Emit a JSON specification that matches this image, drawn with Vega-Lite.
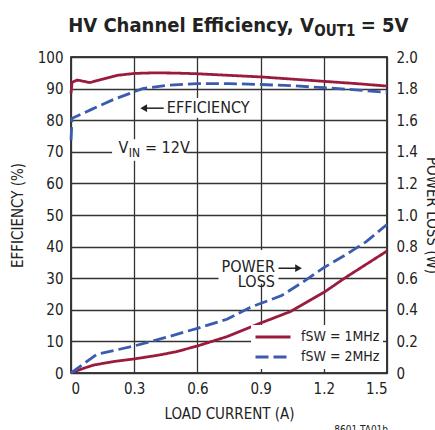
{
  "$schema": "https://vega.github.io/schema/vega-lite/v6.json",
  "autosize": {"type": "none"},
  "padding": {"left": 71, "top": 57, "right": 48, "bottom": 57},
  "width": 316,
  "height": 316,
  "background": "white",
  "config": {
    "font": "DejaVu Sans Condensed",
    "view": {"stroke": "black", "strokeWidth": 1.5},
    "axis": {
      "labelFont": "DejaVu Sans Condensed",
      "titleFont": "DejaVu Sans Condensed",
      "labelFontSize": 15,
      "titleFontSize": 15,
      "titleFontWeight": "normal",
      "labelColor": "#222",
      "titleColor": "#222",
      "ticks": false,
      "domain": false,
      "gridColor": "#333",
      "gridWidth": 1.3,
      "gridOpacity": 1,
      "labelOverlap": false
    },
    "legend": {
      "orient": "bottom-right",
      "offset": 4,
      "title": null,
      "fillColor": "white",
      "padding": 3,
      "labelFont": "DejaVu Sans Condensed",
      "labelFontSize": 14,
      "labelColor": "#222",
      "symbolType": "stroke",
      "symbolStrokeWidth": 3,
      "symbolSize": 1225,
      "labelOffset": 9,
      "clipHeight": 18,
      "rowPadding": 2
    },
    "text": {"font": "DejaVu Sans Condensed", "fontSize": 15, "color": "#222"}
  },
  "datasets": {
    "eff": [
      {"I": 0, "eff": 88.5, "f": "1MHz"},
      {"I": 0.005, "eff": 92.0, "f": "1MHz"},
      {"I": 0.03, "eff": 92.7, "f": "1MHz"},
      {"I": 0.09, "eff": 91.9, "f": "1MHz"},
      {"I": 0.15, "eff": 93.0, "f": "1MHz"},
      {"I": 0.22, "eff": 94.2, "f": "1MHz"},
      {"I": 0.3, "eff": 94.8, "f": "1MHz"},
      {"I": 0.4, "eff": 95.0, "f": "1MHz"},
      {"I": 0.5, "eff": 94.9, "f": "1MHz"},
      {"I": 0.6, "eff": 94.7, "f": "1MHz"},
      {"I": 0.75, "eff": 94.2, "f": "1MHz"},
      {"I": 0.9, "eff": 93.7, "f": "1MHz"},
      {"I": 1.05, "eff": 93.0, "f": "1MHz"},
      {"I": 1.2, "eff": 92.3, "f": "1MHz"},
      {"I": 1.35, "eff": 91.6, "f": "1MHz"},
      {"I": 1.5, "eff": 90.8, "f": "1MHz"},
      {"I": 0, "eff": 73.7, "f": "2MHz"},
      {"I": 0.005, "eff": 80.6, "f": "2MHz"},
      {"I": 0.1, "eff": 83.5, "f": "2MHz"},
      {"I": 0.2, "eff": 86.5, "f": "2MHz"},
      {"I": 0.34, "eff": 90.0, "f": "2MHz"},
      {"I": 0.45, "eff": 91.0, "f": "2MHz"},
      {"I": 0.6, "eff": 91.6, "f": "2MHz"},
      {"I": 0.75, "eff": 91.6, "f": "2MHz"},
      {"I": 0.9, "eff": 91.3, "f": "2MHz"},
      {"I": 1.05, "eff": 90.9, "f": "2MHz"},
      {"I": 1.2, "eff": 90.3, "f": "2MHz"},
      {"I": 1.35, "eff": 89.6, "f": "2MHz"},
      {"I": 1.5, "eff": 88.8, "f": "2MHz"}
    ],
    "loss": [
      {"I": 0, "P": 0, "f": "1MHz"},
      {"I": 0.05, "P": 0.025, "f": "1MHz"},
      {"I": 0.106, "P": 0.05, "f": "1MHz"},
      {"I": 0.2, "P": 0.072, "f": "1MHz"},
      {"I": 0.3, "P": 0.089, "f": "1MHz"},
      {"I": 0.42, "P": 0.114, "f": "1MHz"},
      {"I": 0.5, "P": 0.135, "f": "1MHz"},
      {"I": 0.6, "P": 0.171, "f": "1MHz"},
      {"I": 0.74, "P": 0.23, "f": "1MHz"},
      {"I": 0.9, "P": 0.316, "f": "1MHz"},
      {"I": 1.04, "P": 0.388, "f": "1MHz"},
      {"I": 1.2, "P": 0.51, "f": "1MHz"},
      {"I": 1.31, "P": 0.61, "f": "1MHz"},
      {"I": 1.5, "P": 0.772, "f": "1MHz"},
      {"I": 0, "P": 0, "f": "2MHz"},
      {"I": 0.122, "P": 0.118, "f": "2MHz"},
      {"I": 0.3, "P": 0.171, "f": "2MHz"},
      {"I": 0.45, "P": 0.225, "f": "2MHz"},
      {"I": 0.6, "P": 0.283, "f": "2MHz"},
      {"I": 0.74, "P": 0.34, "f": "2MHz"},
      {"I": 0.85, "P": 0.415, "f": "2MHz"},
      {"I": 1.0, "P": 0.49, "f": "2MHz"},
      {"I": 1.1, "P": 0.575, "f": "2MHz"},
      {"I": 1.2, "P": 0.667, "f": "2MHz"},
      {"I": 1.3, "P": 0.745, "f": "2MHz"},
      {"I": 1.4, "P": 0.83, "f": "2MHz"},
      {"I": 1.5, "P": 0.94, "f": "2MHz"}
    ]
  },
  "layer": [
    {
      "layer": [
        {
          "data": {"name": "eff"},
          "mark": {"type": "line", "strokeWidth": 2.8},
          "encoding": {
            "x": {
              "field": "I", "type": "quantitative",
              "scale": {"domain": [0, 1.5], "nice": false},
              "axis": {"values": [0, 0.3, 0.6, 0.9, 1.2, 1.5], "labelExpr": "datum.value == 0 ? '0' : format(datum.value, '.1f')", "title": "LOAD CURRENT (A)", "labelPadding": 8, "titlePadding": 10, "grid": true}
            },
            "y": {
              "field": "eff", "type": "quantitative",
              "scale": {"domain": [0, 100], "nice": false},
              "axis": {"orient": "left", "values": [0, 10, 20, 30, 40, 50, 60, 70, 80, 90, 100], "title": "EFFICIENCY (%)", "labelPadding": 8, "titlePadding": 12, "grid": true}
            },
            "color": {"field": "f", "type": "nominal", "scale": {"domain": ["1MHz", "2MHz"], "range": ["#9B1B3F", "#3A5BAF"]}, "legend": {"labelExpr": "'fSW = ' + datum.label"}},
            "strokeDash": {"field": "f", "type": "nominal", "scale": {"domain": ["1MHz", "2MHz"], "range": [[1, 0], [13, 5]]}, "legend": {"labelExpr": "'fSW = ' + datum.label"}}
          }
        },
        {
          "data": {"values": [{}]},
          "mark": {"type": "rect", "color": "white"},
          "encoding": {
            "x": {"datum": 0.44, "axis": {"values": [0, 0.3, 0.6, 0.9, 1.2, 1.5], "labelExpr": "datum.value == 0 ? '0' : format(datum.value, '.1f')", "title": "LOAD CURRENT (A)", "labelPadding": 8, "titlePadding": 10, "grid": true}},
            "x2": {"datum": 0.84},
            "y": {"datum": 80.8, "axis": {"orient": "left", "values": [0, 10, 20, 30, 40, 50, 60, 70, 80, 90, 100], "title": "EFFICIENCY (%)", "labelPadding": 8, "titlePadding": 12, "grid": true}},
            "y2": {"datum": 87.0}
          }
        },
        {
          "data": {"values": [{}]},
          "mark": {"type": "rect", "color": "white"},
          "encoding": {
            "x": {"datum": 0.195, "axis": {"values": [0, 0.3, 0.6, 0.9, 1.2, 1.5], "labelExpr": "datum.value == 0 ? '0' : format(datum.value, '.1f')", "title": "LOAD CURRENT (A)", "labelPadding": 8, "titlePadding": 10, "grid": true}},
            "x2": {"datum": 0.546},
            "y": {"datum": 67.2, "axis": {"orient": "left", "values": [0, 10, 20, 30, 40, 50, 60, 70, 80, 90, 100], "title": "EFFICIENCY (%)", "labelPadding": 8, "titlePadding": 12, "grid": true}},
            "y2": {"datum": 74.0}
          }
        },
        {
          "data": {"values": [{}]},
          "mark": {"type": "text", "align": "left", "baseline": "middle", "fontSize": 16},
          "encoding": {
            "text": {"value": "EFFICIENCY"},
            "x": {"datum": 0.455, "axis": {"values": [0, 0.3, 0.6, 0.9, 1.2, 1.5], "labelExpr": "datum.value == 0 ? '0' : format(datum.value, '.1f')", "title": "LOAD CURRENT (A)", "labelPadding": 8, "titlePadding": 10, "grid": true}},
            "y": {"datum": 83.8, "axis": {"orient": "left", "values": [0, 10, 20, 30, 40, 50, 60, 70, 80, 90, 100], "title": "EFFICIENCY (%)", "labelPadding": 8, "titlePadding": 12, "grid": true}}
          }
        },
        {
          "data": {"values": [{}]},
          "mark": {"type": "rule", "color": "#222", "strokeWidth": 1.5},
          "encoding": {
            "x": {"datum": 0.36, "axis": {"values": [0, 0.3, 0.6, 0.9, 1.2, 1.5], "labelExpr": "datum.value == 0 ? '0' : format(datum.value, '.1f')", "title": "LOAD CURRENT (A)", "labelPadding": 8, "titlePadding": 10, "grid": true}},
            "x2": {"datum": 0.44},
            "y": {"datum": 83.8, "axis": {"orient": "left", "values": [0, 10, 20, 30, 40, 50, 60, 70, 80, 90, 100], "title": "EFFICIENCY (%)", "labelPadding": 8, "titlePadding": 12, "grid": true}}
          }
        },
        {
          "data": {"values": [{}]},
          "mark": {"type": "point", "shape": "triangle-left", "filled": true, "color": "#222", "size": 60, "opacity": 1},
          "encoding": {
            "x": {"datum": 0.345, "axis": {"values": [0, 0.3, 0.6, 0.9, 1.2, 1.5], "labelExpr": "datum.value == 0 ? '0' : format(datum.value, '.1f')", "title": "LOAD CURRENT (A)", "labelPadding": 8, "titlePadding": 10, "grid": true}},
            "y": {"datum": 83.8, "axis": {"orient": "left", "values": [0, 10, 20, 30, 40, 50, 60, 70, 80, 90, 100], "title": "EFFICIENCY (%)", "labelPadding": 8, "titlePadding": 12, "grid": true}}
          }
        },
        {
          "data": {"values": [{}]},
          "mark": {"type": "text", "align": "right", "baseline": "alphabetic", "fontSize": 16},
          "encoding": {
            "text": {"value": "V"},
            "x": {"datum": 0.272, "axis": {"values": [0, 0.3, 0.6, 0.9, 1.2, 1.5], "labelExpr": "datum.value == 0 ? '0' : format(datum.value, '.1f')", "title": "LOAD CURRENT (A)", "labelPadding": 8, "titlePadding": 10, "grid": true}},
            "y": {"datum": 69.5, "axis": {"orient": "left", "values": [0, 10, 20, 30, 40, 50, 60, 70, 80, 90, 100], "title": "EFFICIENCY (%)", "labelPadding": 8, "titlePadding": 12, "grid": true}}
          }
        },
        {
          "data": {"values": [{}]},
          "mark": {"type": "text", "align": "left", "baseline": "alphabetic", "fontSize": 12},
          "encoding": {
            "text": {"value": "IN"},
            "x": {"datum": 0.274, "axis": {"values": [0, 0.3, 0.6, 0.9, 1.2, 1.5], "labelExpr": "datum.value == 0 ? '0' : format(datum.value, '.1f')", "title": "LOAD CURRENT (A)", "labelPadding": 8, "titlePadding": 10, "grid": true}},
            "y": {"datum": 68.2, "axis": {"orient": "left", "values": [0, 10, 20, 30, 40, 50, 60, 70, 80, 90, 100], "title": "EFFICIENCY (%)", "labelPadding": 8, "titlePadding": 12, "grid": true}}
          }
        },
        {
          "data": {"values": [{}]},
          "mark": {"type": "text", "align": "left", "baseline": "alphabetic", "fontSize": 16},
          "encoding": {
            "text": {"value": "= 12V"},
            "x": {"datum": 0.351, "axis": {"values": [0, 0.3, 0.6, 0.9, 1.2, 1.5], "labelExpr": "datum.value == 0 ? '0' : format(datum.value, '.1f')", "title": "LOAD CURRENT (A)", "labelPadding": 8, "titlePadding": 10, "grid": true}},
            "y": {"datum": 69.5, "axis": {"orient": "left", "values": [0, 10, 20, 30, 40, 50, 60, 70, 80, 90, 100], "title": "EFFICIENCY (%)", "labelPadding": 8, "titlePadding": 12, "grid": true}}
          }
        },
        {
          "data": {"values": [{}]},
          "mark": {"type": "text", "align": "right", "baseline": "alphabetic", "fontSize": 20, "fontWeight": "bold"},
          "encoding": {
            "text": {"value": "HV Channel Efficiency, V"},
            "x": {"datum": 1.153, "axis": {"values": [0, 0.3, 0.6, 0.9, 1.2, 1.5], "labelExpr": "datum.value == 0 ? '0' : format(datum.value, '.1f')", "title": "LOAD CURRENT (A)", "labelPadding": 8, "titlePadding": 10, "grid": true}},
            "y": {"datum": 108.0, "axis": {"orient": "left", "values": [0, 10, 20, 30, 40, 50, 60, 70, 80, 90, 100], "title": "EFFICIENCY (%)", "labelPadding": 8, "titlePadding": 12, "grid": true}}
          }
        },
        {
          "data": {"values": [{}]},
          "mark": {"type": "text", "align": "left", "baseline": "alphabetic", "fontSize": 15, "fontWeight": "bold"},
          "encoding": {
            "text": {"value": "OUT1"},
            "x": {"datum": 1.155, "axis": {"values": [0, 0.3, 0.6, 0.9, 1.2, 1.5], "labelExpr": "datum.value == 0 ? '0' : format(datum.value, '.1f')", "title": "LOAD CURRENT (A)", "labelPadding": 8, "titlePadding": 10, "grid": true}},
            "y": {"datum": 106.6, "axis": {"orient": "left", "values": [0, 10, 20, 30, 40, 50, 60, 70, 80, 90, 100], "title": "EFFICIENCY (%)", "labelPadding": 8, "titlePadding": 12, "grid": true}}
          }
        },
        {
          "data": {"values": [{}]},
          "mark": {"type": "text", "align": "left", "baseline": "alphabetic", "fontSize": 20, "fontWeight": "bold"},
          "encoding": {
            "text": {"value": "= 5V"},
            "x": {"datum": 1.375, "axis": {"values": [0, 0.3, 0.6, 0.9, 1.2, 1.5], "labelExpr": "datum.value == 0 ? '0' : format(datum.value, '.1f')", "title": "LOAD CURRENT (A)", "labelPadding": 8, "titlePadding": 10, "grid": true}},
            "y": {"datum": 108.0, "axis": {"orient": "left", "values": [0, 10, 20, 30, 40, 50, 60, 70, 80, 90, 100], "title": "EFFICIENCY (%)", "labelPadding": 8, "titlePadding": 12, "grid": true}}
          }
        },
        {
          "data": {"values": [{}]},
          "mark": {"type": "text", "align": "right", "baseline": "top", "fontSize": 10},
          "encoding": {
            "text": {"value": "8601 TA01b"},
            "x": {"datum": 1.505, "axis": {"values": [0, 0.3, 0.6, 0.9, 1.2, 1.5], "labelExpr": "datum.value == 0 ? '0' : format(datum.value, '.1f')", "title": "LOAD CURRENT (A)", "labelPadding": 8, "titlePadding": 10, "grid": true}},
            "y": {"datum": -16.5, "axis": {"orient": "left", "values": [0, 10, 20, 30, 40, 50, 60, 70, 80, 90, 100], "title": "EFFICIENCY (%)", "labelPadding": 8, "titlePadding": 12, "grid": true}}
          }
        }
      ]
    },
    {
      "layer": [
        {
          "data": {"values": [{}]},
          "mark": {"type": "rect", "color": "white"},
          "encoding": {
            "x": {"datum": 0.7, "axis": {"values": [0, 0.3, 0.6, 0.9, 1.2, 1.5], "labelExpr": "datum.value == 0 ? '0' : format(datum.value, '.1f')", "title": "LOAD CURRENT (A)", "labelPadding": 8, "titlePadding": 10, "grid": true}},
            "x2": {"datum": 0.985},
            "y": {"datum": 0.565, "axis": {"orient": "right", "values": [0, 0.2, 0.4, 0.6, 0.8, 1.0, 1.2, 1.4, 1.6, 1.8, 2.0], "labelExpr": "datum.value == 0 ? '0' : format(datum.value, '.1f')", "title": "POWER LOSS (W)", "labelPadding": 9, "titlePadding": 6, "grid": false}},
            "y2": {"datum": 0.778}
          }
        },
        {
          "data": {"name": "loss"},
          "mark": {"type": "line", "strokeWidth": 2.8},
          "encoding": {
            "x": {"field": "I", "type": "quantitative", "axis": {"values": [0, 0.3, 0.6, 0.9, 1.2, 1.5], "labelExpr": "datum.value == 0 ? '0' : format(datum.value, '.1f')", "title": "LOAD CURRENT (A)", "labelPadding": 8, "titlePadding": 10, "grid": true}},
            "y": {
              "field": "P", "type": "quantitative",
              "scale": {"domain": [0, 2], "nice": false},
              "axis": {"orient": "right", "values": [0, 0.2, 0.4, 0.6, 0.8, 1.0, 1.2, 1.4, 1.6, 1.8, 2.0], "labelExpr": "datum.value == 0 ? '0' : format(datum.value, '.1f')", "title": "POWER LOSS (W)", "labelPadding": 9, "titlePadding": 6, "grid": false}
            },
            "color": {"field": "f", "type": "nominal", "legend": {"labelExpr": "'fSW = ' + datum.label"}},
            "strokeDash": {"field": "f", "type": "nominal", "legend": {"labelExpr": "'fSW = ' + datum.label"}}
          }
        },
        {
          "data": {"values": [{}]},
          "mark": {"type": "text", "align": "right", "baseline": "middle", "fontSize": 16, "lineHeight": 15},
          "encoding": {
            "text": {"value": ["POWER", "LOSS"]},
            "x": {"datum": 0.968, "axis": {"values": [0, 0.3, 0.6, 0.9, 1.2, 1.5], "labelExpr": "datum.value == 0 ? '0' : format(datum.value, '.1f')", "title": "LOAD CURRENT (A)", "labelPadding": 8, "titlePadding": 10, "grid": true}},
            "y": {"datum": 0.668, "axis": {"orient": "right", "values": [0, 0.2, 0.4, 0.6, 0.8, 1.0, 1.2, 1.4, 1.6, 1.8, 2.0], "labelExpr": "datum.value == 0 ? '0' : format(datum.value, '.1f')", "title": "POWER LOSS (W)", "labelPadding": 9, "titlePadding": 6, "grid": false}}
          }
        },
        {
          "data": {"values": [{}]},
          "mark": {"type": "rule", "color": "#222", "strokeWidth": 1.5},
          "encoding": {
            "x": {"datum": 0.985, "axis": {"values": [0, 0.3, 0.6, 0.9, 1.2, 1.5], "labelExpr": "datum.value == 0 ? '0' : format(datum.value, '.1f')", "title": "LOAD CURRENT (A)", "labelPadding": 8, "titlePadding": 10, "grid": true}},
            "x2": {"datum": 1.07},
            "y": {"datum": 0.663, "axis": {"orient": "right", "values": [0, 0.2, 0.4, 0.6, 0.8, 1.0, 1.2, 1.4, 1.6, 1.8, 2.0], "labelExpr": "datum.value == 0 ? '0' : format(datum.value, '.1f')", "title": "POWER LOSS (W)", "labelPadding": 9, "titlePadding": 6, "grid": false}}
          }
        },
        {
          "data": {"values": [{}]},
          "mark": {"type": "point", "shape": "triangle-right", "filled": true, "color": "#222", "size": 60, "opacity": 1},
          "encoding": {
            "x": {"datum": 1.08, "axis": {"values": [0, 0.3, 0.6, 0.9, 1.2, 1.5], "labelExpr": "datum.value == 0 ? '0' : format(datum.value, '.1f')", "title": "LOAD CURRENT (A)", "labelPadding": 8, "titlePadding": 10, "grid": true}},
            "y": {"datum": 0.663, "axis": {"orient": "right", "values": [0, 0.2, 0.4, 0.6, 0.8, 1.0, 1.2, 1.4, 1.6, 1.8, 2.0], "labelExpr": "datum.value == 0 ? '0' : format(datum.value, '.1f')", "title": "POWER LOSS (W)", "labelPadding": 9, "titlePadding": 6, "grid": false}}
          }
        }
      ]
    }
  ],
  "resolve": {"scale": {"y": "independent"}, "axis": {"y": "independent"}}
}
